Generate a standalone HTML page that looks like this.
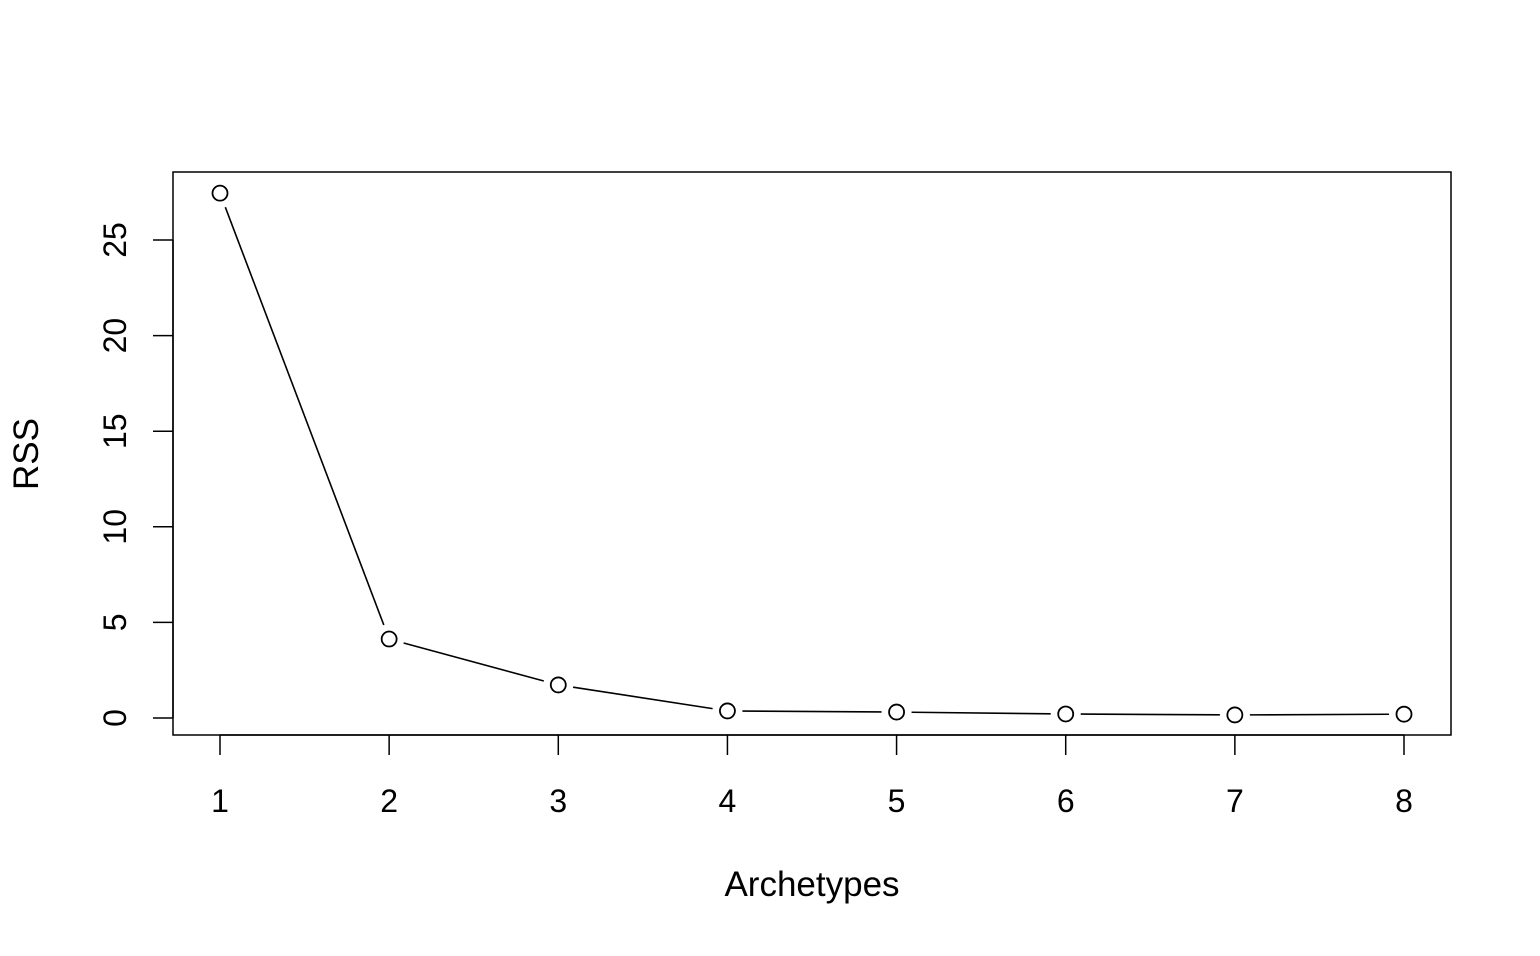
<!DOCTYPE html>
<html><head><meta charset="utf-8"><style>
html,body{margin:0;padding:0;background:#fff;}
svg text{font-family:"Liberation Sans",Arial,sans-serif;fill:#000;}
</style></head><body>
<svg id="chart" width="1540" height="951" xmlns="http://www.w3.org/2000/svg">
<rect x="173" y="172" width="1278" height="563" fill="none" stroke="#000" stroke-width="1.5"/>
<g id="xaxis"></g>
<g id="yaxis"></g>
<g id="series"></g>
<text x="812" y="896" font-size="35" text-anchor="middle">Archetypes</text>
<text transform="translate(38,454) rotate(-90)" font-size="35" text-anchor="middle">RSS</text>
</svg>
<script>
const categories = [1,2,3,4,5,6,7,8];
const rssValues = [27.45, 4.13, 1.73, 0.37, 0.31, 0.21, 0.16, 0.2];
const yTicks = [0,5,10,15,20,25];

const NS="http://www.w3.org/2000/svg";
function xs(v){return 220+(v-1)*(1404-220)/7;}
function ys(v){return 718-v*(718-240)/25;}
function mk(tag,attrs,parent){const e=document.createElementNS(NS,tag);for(const k in attrs)e.setAttribute(k,attrs[k]);parent.appendChild(e);return e;}
const xa=document.getElementById('xaxis'),ya=document.getElementById('yaxis'),se=document.getElementById('series');
mk('line',{x1:xs(categories[0]),x2:xs(categories[categories.length-1]),y1:735,y2:735,stroke:'#000','stroke-width':1.5},xa);
categories.forEach(c=>{
  const t=mk('line',{x1:xs(c),x2:xs(c),y1:735,y2:755,stroke:'#000','stroke-width':1.5},xa);
  
  
  const l=mk('text',{x:xs(c),y:812,'font-size':32,'text-anchor':'middle'},xa);
  l.textContent=c;
  
  
});
mk('line',{x1:173,x2:173,y1:ys(yTicks[0]),y2:ys(yTicks[yTicks.length-1]),stroke:'#000','stroke-width':1.5},ya);
yTicks.forEach(v=>{
  const t=mk('line',{x1:153,x2:173,y1:ys(v),y2:ys(v),stroke:'#000','stroke-width':1.5},ya);
  
  
  const l=mk('text',{transform:`translate(126,${ys(v)}) rotate(-90)`,'font-size':32,'text-anchor':'middle'},ya);
  l.textContent=v;
  
  
});
const gap=15;
for(let i=0;i<categories.length-1;i++){
  const x1=xs(categories[i]),y1=ys(rssValues[i]),x2=xs(categories[i+1]),y2=ys(rssValues[i+1]);
  const d=Math.hypot(x2-x1,y2-y1);if(d<2*gap)continue;
  const ux=(x2-x1)/d,uy=(y2-y1)/d;
  const s=mk('line',{x1:x1+ux*gap,y1:y1+uy*gap,x2:x2-ux*gap,y2:y2-uy*gap,stroke:'#000','stroke-width':1.6},se);
  
  
}
categories.forEach((c,i)=>{
  const p=mk('circle',{cx:xs(c),cy:ys(rssValues[i]),r:7.5,fill:'#fff',stroke:'#000','stroke-width':1.8},se);
  
  
});
</script>
</body></html>
